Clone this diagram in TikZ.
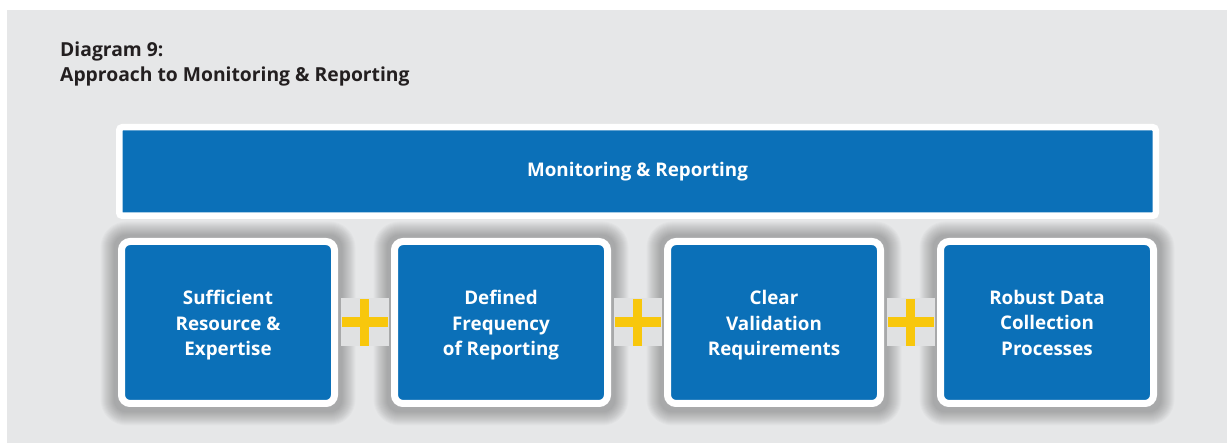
\documentclass[tikz,border=0pt]{standalone}
\usepackage{fontspec}
\setmainfont{Open Sans}
\definecolor{panelgray}{HTML}{E6E7E8}
\definecolor{boxblue}{HTML}{0B70B8}
\definecolor{plusyellow}{HTML}{F8C70C}
\definecolor{titleink}{HTML}{231F20}
\definecolor{plusback}{HTML}{E0E1E2}
\pgfdeclarelayer{panel}
\pgfdeclarelayer{shade}
\pgfsetlayers{panel,shade,main}
\tikzset{
  topbar/.style={draw=white, line width=6.5pt, fill=boxblue, rounded corners=3pt,
      minimum width=1036.5pt, minimum height=88.5pt, inner sep=0pt,
      text=white, font=\bfseries\fontsize{18.8}{25.5}\selectfont},
  factor/.style={draw=white, line width=7pt, fill=boxblue, rounded corners=8.5pt,
      minimum width=213pt, minimum height=162pt, inner sep=0pt},
  factortext/.style={align=center, text=white, inner sep=0pt,
      font=\bfseries\fontsize{18.8}{25.5}\selectfont},
  shadowring/.style={fill=black, opacity=0.021},
  plusbg/.style={fill=plusback, minimum width=48pt, minimum height=48pt, inner sep=0pt},
  title/.style={anchor=base west, text=titleink, font=\bfseries\fontsize{19.3}{25}\selectfont, inner sep=0pt}
}
% soft shadow round a factor box: stacked, widening translucent rounded rectangles
\newcommand{\softshadow}[1]{%
  \foreach \d in {1,...,14}{%
    \fill[shadowring, rounded corners=12pt+\d pt]
      ([xshift=-3.5pt-\d pt, yshift=3.5pt+\d pt-1pt]#1.north west) rectangle
      ([xshift=3.5pt+\d pt, yshift=-3.5pt-\d pt-1pt]#1.south east);
  }%
}
\newcommand{\plussign}[1]{%
  \node[plusbg] (#1) {};
  \fill[plusyellow] ([xshift=-23pt,yshift=-5pt]#1.center) rectangle ([xshift=23pt,yshift=5pt]#1.center);
  \fill[plusyellow] ([xshift=-4.5pt,yshift=-23.5pt]#1.center) rectangle ([xshift=4.5pt,yshift=23.5pt]#1.center);
}
\begin{document}
\begin{tikzpicture}[x=1pt,y=-1pt]
  \useasboundingbox (0,0) rectangle (1227,443);
  % panel background
  \begin{pgfonlayer}{panel}
    \fill[panelgray] (7,10) rectangle (1227,443);
  \end{pgfonlayer}

  % heading
  \node[title] (h1) at (60,57) {Diagram 9:};
  \node[title] (h2) at (60,82) {Approach to Monitoring \& Reporting};

  % the four factor boxes
  \node[factor] (f1) at (228,322.5) {};
  \node[factor] (f2) at (501,322.5) {};
  \node[factor] (f3) at (774,322.5) {};
  \node[factor] (f4) at (1047,322.5) {};
  \node[factortext] (t1) at ([yshift=-3pt]f1.center) {Sufficient\\Resource \&\\Expertise};
  \node[factortext] (t2) at ([yshift=-3pt]f2.center) {Defined\\Frequency\\of Reporting};
  \node[factortext] (t3) at ([yshift=-3pt]f3.center) {Clear\\Validation\\Requirements};
  \node[factortext] (t4) at (f4.center) {Robust Data\\Collection\\Processes};

  \begin{pgfonlayer}{shade}
    \softshadow{f1}\softshadow{f2}\softshadow{f3}\softshadow{f4}
  \end{pgfonlayer}

  % umbrella bar
  \node[topbar] (mr) at (637.5,171.5) {Monitoring \& Reporting};

  % plus signs between the factors
  \path (f1.east) -- (f2.west) coordinate[pos=0.5] (c1);
  \path (f2.east) -- (f3.west) coordinate[pos=0.5] (c2);
  \path (f3.east) -- (f4.west) coordinate[pos=0.5] (c3);
  \begin{scope}[shift={(c1)}]\plussign{p1}\end{scope}
  \begin{scope}[shift={(c2)}]\plussign{p2}\end{scope}
  \begin{scope}[shift={(c3)}]\plussign{p3}\end{scope}
\end{tikzpicture}
\end{document}
